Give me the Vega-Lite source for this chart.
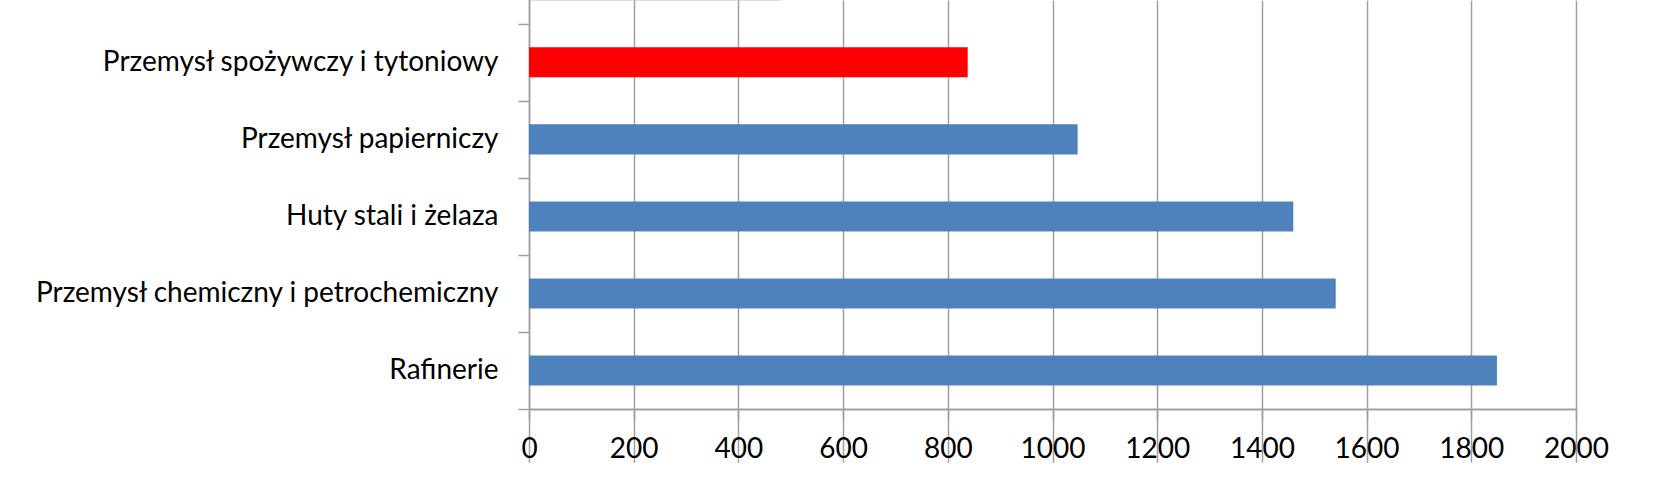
{
  "$schema": "https://vega.github.io/schema/vega-lite/v6.json",
  "autosize": "none",
  "padding": {"left": 529, "top": 0, "right": 79, "bottom": 91},
  "width": 1047,
  "height": 409,
  "background": "white",
  "config": {
    "view": {"stroke": null},
    "font": "Lato"
  },
  "data": {
    "values": [
      {"kategoria": "Przemysł maszynowy", "wartosc": 481},
      {"kategoria": "Przemysł spożywczy i tytoniowy", "wartosc": 838},
      {"kategoria": "Przemysł papierniczy", "wartosc": 1048},
      {"kategoria": "Huty stali i żelaza", "wartosc": 1460},
      {"kategoria": "Przemysł chemiczny i petrochemiczny", "wartosc": 1541},
      {"kategoria": "Rafinerie", "wartosc": 1849}
    ]
  },
  "mark": {"type": "bar", "clip": true, "height": {"band": 0.39}},
  "encoding": {
    "y": {
      "field": "kategoria",
      "type": "nominal",
      "sort": null,
      "scale": {"range": [-53.2, 409], "paddingInner": 0, "paddingOuter": 0},
      "axis": {
        "title": null,
        "tickBand": "extent",
        "tickSize": 11,
        "tickColor": "#a0a0a0",
        "tickWidth": 1.5,
        "domainColor": "#a0a0a0",
        "domainWidth": 1.5,
        "labelFont": "Lato",
        "labelFontSize": 28,
        "labelColor": "#000000",
        "labelPadding": 20,
        "labelLimit": 1000,
        "grid": false
      }
    },
    "x": {
      "field": "wartosc",
      "type": "quantitative",
      "scale": {"domain": [0, 2000], "nice": false},
      "axis": {
        "title": null,
        "values": [0, 200, 400, 600, 800, 1000, 1200, 1400, 1600, 1800, 2000],
        "format": "d",
        "grid": true,
        "gridColor": "#a0a0a0",
        "gridWidth": 1.5,
        "tickSize": 10,
        "tickColor": "#a0a0a0",
        "tickWidth": 1.5,
        "domainColor": "#a0a0a0",
        "domainWidth": 2,
        "labelFont": "Lato",
        "labelFontSize": 28,
        "labelColor": "#000000",
        "labelPadding": 16,
        "labelFlush": false,
        "labelOverlap": false
      }
    },
    "color": {
      "condition": {"test": "datum.kategoria === 'Przemysł spożywczy i tytoniowy'", "value": "#ff0000"},
      "value": "#4f81bd"
    }
  }
}
